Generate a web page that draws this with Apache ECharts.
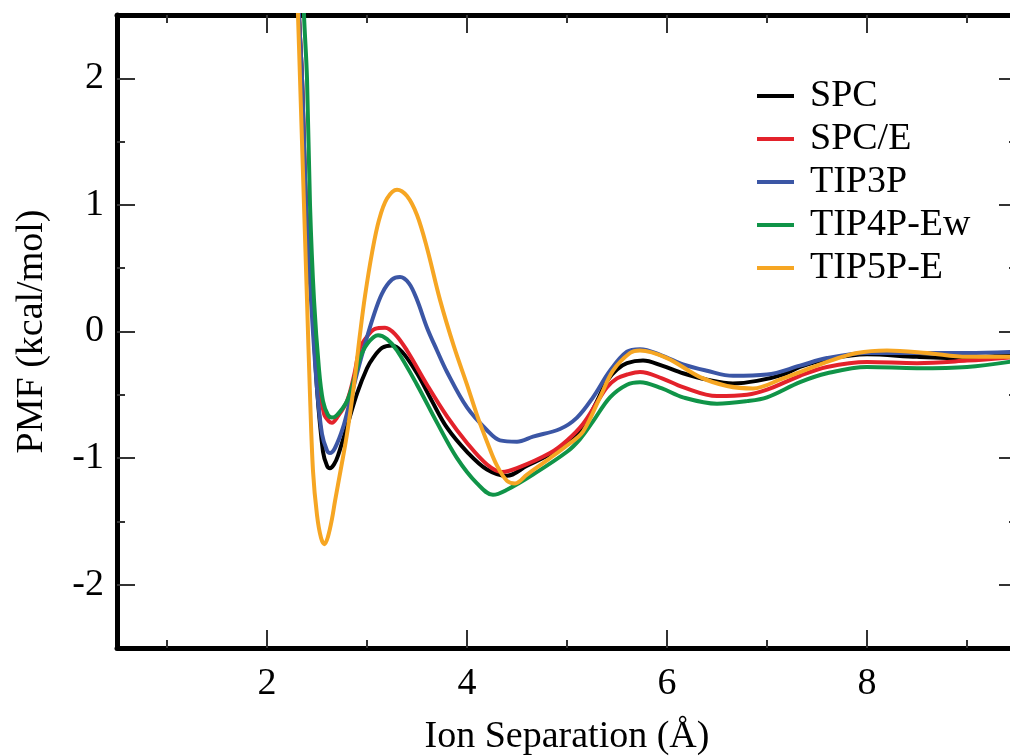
<!DOCTYPE html>
<html>
<head>
<meta charset="utf-8">
<script src="https://cdn.jsdelivr.net/npm/echarts@6/dist/echarts.min.js"></script>
<style>html,body{margin:0;padding:0;background:#fff}#c{width:1010px;height:756px}</style>
</head>
<body>
<div id="c"></div>
<script>
const seriesNames = ['SPC', 'SPC/E', 'TIP3P', 'TIP4P-Ew', 'TIP5P-E'];
const xMajor = [2, 4, 6, 8];
const xMinor = [1, 3, 5, 7, 9];
const yMajor = [-2, -1, 0, 1, 2];
const yMinor = [-1.5, -0.5, 0.5, 1.5];

const spc = [[2.29,3.2],[2.32,2.5],[2.35,2.0],[2.39,1.0],[2.45,0.25],[2.50,-0.45],[2.56,-0.95],[2.60,-1.06],[2.63,-1.08],[2.67,-1.05],[2.71,-0.98],[2.80,-0.75],[2.90,-0.49],[3.00,-0.29],[3.06,-0.21],[3.15,-0.13],[3.25,-0.11],[3.35,-0.16],[3.50,-0.33],[3.65,-0.55],[3.80,-0.76],[4.00,-0.95],[4.20,-1.09],[4.40,-1.14],[4.60,-1.06],[4.83,-0.97],[5.00,-0.88],[5.16,-0.76],[5.30,-0.55],[5.40,-0.39],[5.50,-0.30],[5.60,-0.25],[5.76,-0.23],[5.95,-0.27],[6.16,-0.33],[6.40,-0.38],[6.66,-0.41],[6.90,-0.39],[7.16,-0.34],[7.33,-0.28],[7.60,-0.22],[8.00,-0.18],[8.50,-0.20],[9.00,-0.21],[9.50,-0.17]];
const spce = [[2.29,3.2],[2.32,2.5],[2.35,2.0],[2.39,1.0],[2.45,0.25],[2.51,-0.35],[2.57,-0.65],[2.62,-0.71],[2.65,-0.72],[2.70,-0.68],[2.80,-0.55],[2.87,-0.35],[2.93,-0.13],[3.00,-0.04],[3.08,0.02],[3.18,0.03],[3.28,-0.02],[3.40,-0.15],[3.60,-0.42],[3.80,-0.67],[4.00,-0.88],[4.20,-1.05],[4.35,-1.11],[4.50,-1.08],[4.83,-0.96],[5.00,-0.86],[5.16,-0.73],[5.30,-0.56],[5.40,-0.44],[5.50,-0.37],[5.60,-0.34],[5.73,-0.32],[5.95,-0.37],[6.16,-0.44],[6.50,-0.51],[6.80,-0.50],[7.00,-0.46],[7.33,-0.35],[7.60,-0.28],[8.00,-0.24],[8.50,-0.25],[9.00,-0.23],[9.50,-0.20]];
const tip3p = [[2.29,3.2],[2.32,2.5],[2.35,2.0],[2.39,1.0],[2.44,0.25],[2.50,-0.45],[2.55,-0.81],[2.60,-0.94],[2.63,-0.96],[2.68,-0.92],[2.76,-0.76],[2.83,-0.55],[2.90,-0.33],[2.98,-0.10],[3.06,0.11],[3.15,0.30],[3.25,0.41],[3.33,0.43],[3.42,0.38],[3.50,0.25],[3.60,0.03],[3.70,-0.15],[3.80,-0.32],[4.00,-0.60],[4.20,-0.78],[4.33,-0.86],[4.50,-0.87],[4.66,-0.83],[4.93,-0.77],[5.10,-0.68],[5.26,-0.52],[5.43,-0.31],[5.60,-0.16],[5.73,-0.14],[5.95,-0.19],[6.16,-0.26],[6.40,-0.31],[6.66,-0.35],[7.00,-0.34],[7.33,-0.27],[7.60,-0.21],[8.00,-0.17],[8.50,-0.17],[9.00,-0.17],[9.50,-0.16]];
const tip4pew = [[2.34,3.2],[2.37,2.5],[2.40,2.0],[2.43,1.0],[2.47,0.25],[2.52,-0.30],[2.56,-0.55],[2.61,-0.66],[2.65,-0.68],[2.70,-0.66],[2.80,-0.55],[2.87,-0.38],[2.93,-0.21],[3.00,-0.10],[3.11,-0.03],[3.20,-0.06],[3.30,-0.15],[3.50,-0.42],[3.70,-0.72],[3.90,-1.00],[4.10,-1.20],[4.26,-1.29],[4.40,-1.25],[4.66,-1.13],[5.00,-0.95],[5.13,-0.85],[5.26,-0.71],[5.43,-0.52],[5.60,-0.42],[5.73,-0.40],[5.95,-0.45],[6.16,-0.52],[6.50,-0.57],[6.80,-0.55],[7.00,-0.52],[7.33,-0.40],[7.60,-0.33],[8.00,-0.28],[8.50,-0.29],[9.00,-0.28],[9.50,-0.23]];
const tip5pe = [[2.28,3.2],[2.31,2.5],[2.33,2.0],[2.37,1.0],[2.40,0.25],[2.43,-0.50],[2.46,-1.10],[2.50,-1.45],[2.54,-1.63],[2.575,-1.68],[2.61,-1.62],[2.65,-1.48],[2.68,-1.34],[2.74,-1.08],[2.80,-0.81],[2.87,-0.42],[2.93,-0.02],[2.98,0.28],[3.05,0.62],[3.12,0.88],[3.20,1.05],[3.30,1.12],[3.40,1.07],[3.50,0.92],[3.60,0.66],[3.73,0.25],[3.87,-0.12],[4.00,-0.42],[4.10,-0.66],[4.20,-0.87],[4.30,-1.06],[4.40,-1.18],[4.48,-1.20],[4.60,-1.13],[4.83,-1.00],[5.00,-0.90],[5.16,-0.79],[5.33,-0.52],[5.46,-0.31],[5.63,-0.17],[5.73,-0.15],[6.00,-0.21],[6.33,-0.36],[6.60,-0.43],[6.86,-0.45],[7.16,-0.37],[7.33,-0.32],[7.60,-0.24],[7.90,-0.17],[8.20,-0.15],[8.60,-0.17],[9.00,-0.20],[9.50,-0.20]];

const allData = [spc, spce, tip3p, tip4pew, tip5pe];
const colors = ['#000000', '#e3222b', '#3b56a5', '#109448', '#f6a623'];

const FONT = "'Liberation Serif', 'DejaVu Serif', serif";
const X_MIN = 0.5, X_MAX = 9.5, Y_MIN = -2.5, Y_MAX = 2.5;
const tickStyle = { color: '#333', width: 2 };

function makeX(position, ticks, len, main, labels) {
  return {
    type: 'value', position: position, min: X_MIN, max: X_MAX,
    splitLine: { show: false },
    axisLine: { show: main, onZero: false, lineStyle: { color: '#000', width: 5 } },
    axisTick: { show: true, inside: true, length: len, lineStyle: tickStyle, customValues: ticks },
    axisLabel: labels ? { show: true, customValues: ticks, fontFamily: FONT, fontSize: 38, color: '#000', margin: 17 } : { show: false },
    name: labels ? 'Ion Separation (Å)' : '',
    nameLocation: 'middle', nameGap: 70,
    nameTextStyle: { fontFamily: FONT, fontSize: 38, color: '#000' }
  };
}
function makeY(position, ticks, len, main, labels) {
  return {
    type: 'value', position: position, min: Y_MIN, max: Y_MAX,
    splitLine: { show: false },
    axisLine: { show: main, onZero: false, lineStyle: { color: '#000', width: 5 } },
    axisTick: { show: true, inside: true, length: len, lineStyle: tickStyle, customValues: ticks },
    axisLabel: labels ? { show: true, customValues: ticks, fontFamily: FONT, fontSize: 38, color: '#000', margin: 13 } : { show: false },
    name: labels ? 'PMF (kcal/mol)' : '',
    nameLocation: 'middle', nameGap: 66, nameRotate: 90,
    nameTextStyle: { fontFamily: FONT, fontSize: 38, color: '#000' }
  };
}

const chart = echarts.init(document.getElementById('c'), null, { renderer: 'canvas' });
chart.setOption({
  animation: false,
  backgroundColor: '#ffffff',
  grid: { left: 117, top: 15, width: 900, height: 633, containLabel: false, outerBoundsMode: 'none' },
  xAxis: [
    makeX('bottom', xMajor, 18, true, true),
    makeX('bottom', xMinor, 8, false, false),
    makeX('top', xMajor, 18, true, false),
    makeX('top', xMinor, 8, false, false)
  ],
  yAxis: [
    makeY('left', yMajor, 18, true, true),
    makeY('left', yMinor, 8, false, false),
    makeY('right', yMajor, 18, true, false),
    makeY('right', yMinor, 8, false, false)
  ],
  legend: {
    orient: 'vertical', left: 752, top: 72,
    icon: 'rect', itemWidth: 37, itemHeight: 4, itemGap: 5,
    textStyle: { fontFamily: FONT, fontSize: 38, lineHeight: 38, color: '#000', padding: [0, 0, 0, 11] },
    data: seriesNames
  },
  series: seriesNames.map((n, i) => ({
    name: n, type: 'line', data: allData[i],
    xAxisIndex: 0, yAxisIndex: 0,
    showSymbol: false, symbol: 'none', smooth: 0.35, clip: true,
    color: colors[i],
    lineStyle: { color: colors[i], width: 4 }
  }))
});
</script>
</body>
</html>
